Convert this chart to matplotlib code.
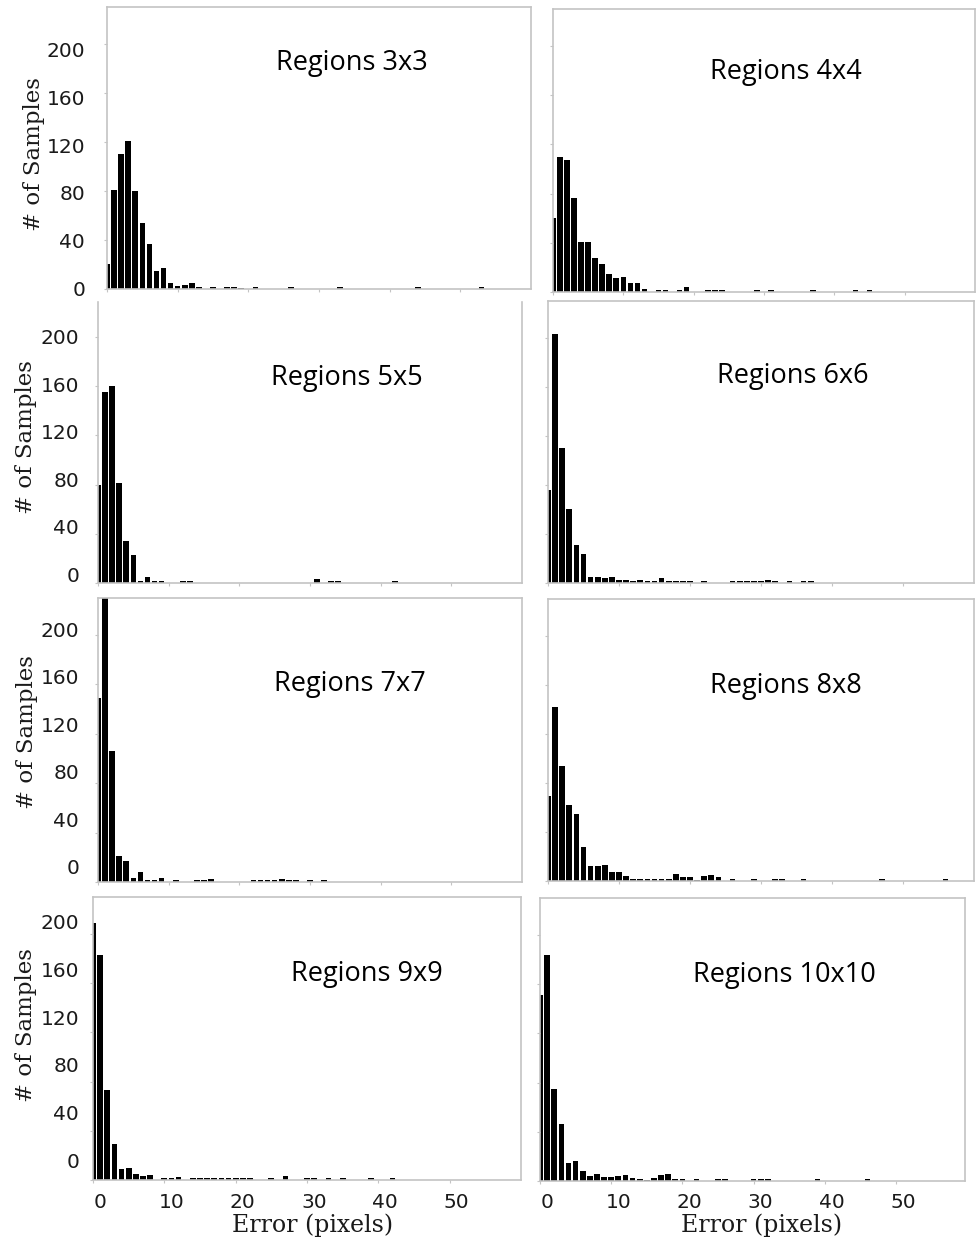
import matplotlib
matplotlib.use("Agg")
import matplotlib.pyplot as plt
from matplotlib.transforms import offset_copy
from matplotlib.patches import Rectangle

W, H = 976, 1244

# histogram counts (bin = error in pixels)
err_3x3 = [0, 1, 2, 3, 4, 5, 6, 7, 8, 9, 10, 11, 12, 13, 15, 17, 18, 19, 21, 26, 33, 44, 53]
cnt_3x3 = [20, 81, 110, 121, 80, 54, 37, 15, 17, 5, 2.7, 3.3, 4.5, 1.5, 1.5, 2, 1.5, 1, 1.5, 1.5, 1.5, 1.5, 2]

err_4x4 = list(range(14)) + [15, 16, 18, 19, 22, 23, 24, 29, 31, 37, 43, 45]
cnt_4x4 = [60, 110, 107, 76, 41, 41, 28, 23, 15, 11, 12, 7, 7, 2.7,
           1.5, 1.5, 1.5, 4, 2, 1.5, 1.5, 1.5, 1.5, 1.5, 1.5, 1.5]

err_5x5 = [0, 1, 2, 3, 4, 5, 6, 7, 8, 9, 12, 13, 31, 33, 34, 42]
cnt_5x5 = [80, 155, 160, 81, 34, 23, 2, 5, 1.5, 2, 2, 1.5, 3, 1.5, 1.5, 1.5]

err_6x6 = list(range(21)) + [22, 26, 27, 28, 29, 30, 31, 32, 34, 36, 37]
cnt_6x6 = [76, 203, 110, 60, 31, 24, 5, 5, 4, 5, 2.7, 2.7, 1.5, 2.7, 1.5, 1.5, 4, 2, 2, 1.5, 1.5,
           1.5, 1.5, 1.5, 1.5, 1.5, 1.5, 2.5, 1.5, 1.5, 1.5, 1.5]

err_7x7 = list(range(10)) + [11, 14, 15, 16, 22, 23, 24, 25, 26, 27, 28, 30, 32]
cnt_7x7 = [149, 232, 106, 21, 17, 3.5, 8, 2, 2, 3.5, 2, 1.5, 1.5, 2.5,
           2, 1.5, 1.5, 1.5, 2.5, 1.5, 1.5, 1.5, 1.5]

err_8x8 = list(range(25)) + [26, 29, 32, 33, 36, 47, 56]
cnt_8x8 = [69, 142, 94, 62, 55, 28, 12, 12, 13, 7.6, 7.6, 4.3, 1.5, 1.5, 1.5, 1.5, 1.5, 1.5,
           5.4, 3, 3.5, 1.2, 4, 4.6, 3.5, 1.5, 1.5, 1.5, 1.5, 1.5, 1.5, 1.5]

err_9x9 = list(range(9)) + [10, 11, 12] + list(range(14, 23)) + [25, 27, 30, 31, 33, 35, 39, 42]
cnt_9x9 = [209, 183, 73, 29, 9, 10, 5, 3, 4, 1.5, 2, 2.2,
           1.5, 1.5, 2, 1.5, 1.5, 1.5, 1.5, 1.5, 1.5,
           1.5, 3, 1.5, 1.5, 1.5, 1.5, 1.5, 1.5]

err_10x10 = list(range(21)) + [22, 25, 26, 30, 31, 32, 39, 46]
cnt_10x10 = [151, 184, 75, 46, 15, 16, 8, 4, 5.7, 3, 3, 4, 4.6, 2.7, 1.6, 1, 2.2, 4.6, 5.4, 1.6, 1.6,
             1.5, 1.5, 2, 1.5, 1.5, 2, 1.5, 1.5]

titles = ["Regions 3x3", "Regions 4x4", "Regions 5x5", "Regions 6x6",
          "Regions 7x7", "Regions 8x8", "Regions 9x9", "Regions 10x10"]
errs = [err_3x3, err_4x4, err_5x5, err_6x6, err_7x7, err_8x8, err_9x9, err_10x10]
cnts = [cnt_3x3, cnt_4x4, cnt_5x5, cnt_6x6, cnt_7x7, cnt_8x8, cnt_9x9, cnt_10x10]
y_ticks = [0, 40, 80, 120, 160, 200]
x_ticks = [0, 10, 20, 30, 40, 50]

# panel boxes in pixels: left, top, right, bottom
boxes = [(107, 7, 531, 289), (553, 9, 975, 292),
         (98, 300, 522, 583), (548, 301, 974, 583),
         (98, 598, 522, 882), (548, 599, 974, 881),
         (93, 897, 521, 1180), (540, 898, 965, 1181)]
title_xy = [(352, 63), (786, 72), (347, 378), (793, 376),
            (350, 684), (786, 686), (367, 974), (784, 975)]
# left column: y label position, tick label pad, label shift at 0 / at 200 (px, down)
ylab_xy = {0: (34, 154), 2: (26, 437), 4: (27, 732), 6: (26, 1025)}
ytick_shift = {0: (22, 1, 8), 2: (19, -7, 2), 4: (19, -13, -4), 6: (14, -18, -10)}
xlab_xy = {6: (313, 1225), 7: (762, 1225)}
xmax = [60, 60, 60, 60, 60, 60, 60, 59.7]

frame = "#c4c4c4"
tick_font = "DejaVu Sans"
text_col = "#1a1a1a"

fig = plt.figure(figsize=(W / 100, H / 100), dpi=100)

for i in range(8):
    l, t, r, b = boxes[i]
    ax = fig.add_axes([l / W, 1 - b / H, (r - l) / W, (b - t) / H])
    ax.bar(errs[i], cnts[i], width=0.8, color="black", edgecolor="none")
    ax.set_xlim(0, xmax[i])
    ax.set_ylim(0, 230)
    for s in ax.spines.values():
        s.set_color(frame)
        s.set_linewidth(1.2)
    ax.set_yticks(y_ticks)
    ax.set_xticks(x_ticks)
    ax.tick_params(axis="both", length=2, width=0.8, color=frame,
                   labelleft=False, labelbottom=False)

    if i == 0:
        # x labels of the top panel are mostly hidden behind the panel below
        ax.tick_params(axis="x", labelbottom=True, pad=0.5, labelsize=14, labelcolor=text_col)

    if i in ytick_shift:
        pad, off0, off200 = ytick_shift[i]
        for v in y_ticks:
            dy = -(off0 + (off200 - off0) * v / 200)
            tr = offset_copy(ax.get_yaxis_transform(), fig=fig, x=-pad, y=dy, units="dots")
            ax.text(0, v, str(v), transform=tr, ha="right", va="center",
                    fontsize=14.5, color=text_col, family=tick_font, clip_on=False)
        lx, ly = ylab_xy[i]
        fig.text(lx / W, 1 - ly / H, "# of Samples", rotation=90, ha="center", va="center",
                 fontsize=16.5, family="DejaVu Serif", color=text_col)

    if i in xlab_xy:
        for v in x_ticks:
            tr = offset_copy(ax.get_xaxis_transform(), fig=fig, x=7, y=-22, units="dots")
            ax.text(v, 0, str(v), transform=tr, ha="center", va="center",
                    fontsize=14.5, color=text_col, family=tick_font, clip_on=False)
        lx, ly = xlab_xy[i]
        fig.text(lx / W, 1 - ly / H, "Error (pixels)", ha="center", va="center",
                 fontsize=17, family="DejaVu Serif", color=text_col)

    tx, ty = title_xy[i]
    fig.text(tx / W, 1 - ty / H, titles[i], ha="center", va="center",
             fontsize=19.5, family="Open Sans", color="black")

# white strip that hides the rest of the top panel's x labels
fig.add_artist(Rectangle((95 / W, 1 - 300 / H), (545 - 95) / W, 6.5 / H,
                         transform=fig.transFigure, color="white", zorder=1))

fig.savefig("out.png", dpi=100, facecolor="white")
